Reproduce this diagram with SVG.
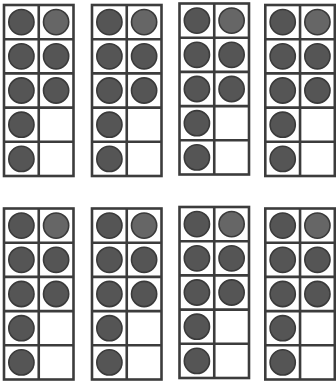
<svg xmlns="http://www.w3.org/2000/svg" xmlns:xlink="http://www.w3.org/1999/xlink" width="336" height="381" viewBox="0 0 336 381">
<style>
.frame{fill:#fff;stroke:#3c3c3c;stroke-width:2.6}
.grid{stroke:#3c3c3c;stroke-width:2.6;fill:none}
.dot{fill:#555;stroke:#3a3a3a;stroke-width:1.6}
.dot2{fill:#666;stroke:#3a3a3a;stroke-width:1.6}
</style>
<defs>
<g id="tenframe">
<rect class="frame" x="0" y="0" width="69.5" height="171"/>
<path class="grid" d="M34.75 0V171M0 34.2H69.5M0 68.4H69.5M0 102.6H69.5M0 136.8H69.5"/>
<circle class="dot" cx="17.4" cy="17.1" r="12.6"/>
<circle class="dot2" cx="52.1" cy="17.1" r="12.6"/>
<circle class="dot" cx="17.4" cy="51.3" r="12.6"/>
<circle class="dot" cx="52.1" cy="51.3" r="12.6"/>
<circle class="dot" cx="17.4" cy="85.5" r="12.6"/>
<circle class="dot" cx="52.1" cy="85.5" r="12.6"/>
<circle class="dot" cx="17.4" cy="119.7" r="12.6"/>
<circle class="dot" cx="17.4" cy="153.9" r="12.6"/>
</g>
</defs>
<g id="connectors"/>
<g id="frame1"><use href="#tenframe" xlink:href="#tenframe" x="4" y="5"/></g>
<g id="frame2"><use href="#tenframe" xlink:href="#tenframe" x="92" y="5"/></g>
<g id="frame3"><use href="#tenframe" xlink:href="#tenframe" x="179.5" y="3.5"/></g>
<g id="frame4"><use href="#tenframe" xlink:href="#tenframe" x="265.3" y="5"/></g>
<g id="frame5"><use href="#tenframe" xlink:href="#tenframe" x="4" y="208.5"/></g>
<g id="frame6"><use href="#tenframe" xlink:href="#tenframe" x="92" y="208.5"/></g>
<g id="frame7"><use href="#tenframe" xlink:href="#tenframe" x="179.5" y="207"/></g>
<g id="frame8"><use href="#tenframe" xlink:href="#tenframe" x="265.3" y="208.5"/></g>
</svg>
